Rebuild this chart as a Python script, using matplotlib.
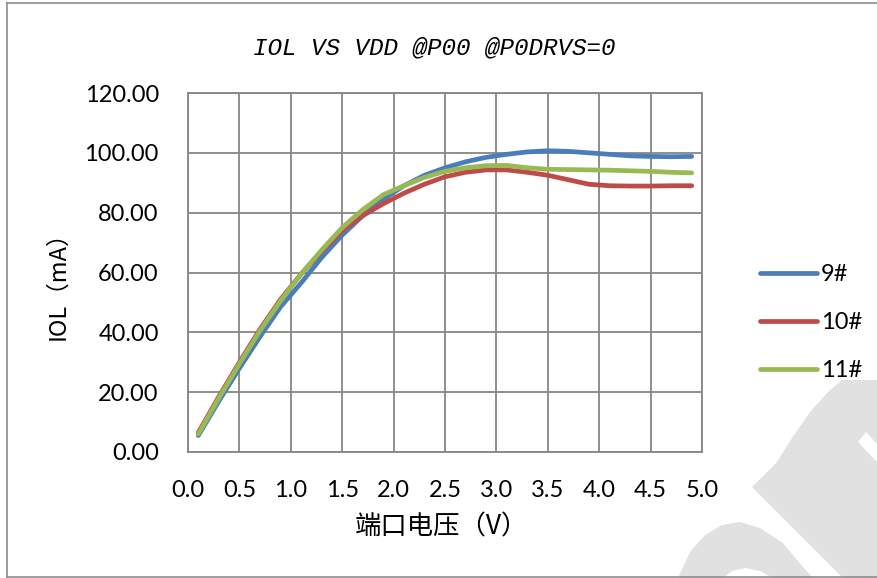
import matplotlib
matplotlib.use('Agg')
import matplotlib.pyplot as plt
from matplotlib.patches import Polygon
from matplotlib.lines import Line2D

# data
vdd = [0.1, 0.3, 0.5, 0.7, 0.9, 1.1, 1.3, 1.5, 1.7, 1.9, 2.1, 2.3, 2.5,
       2.7, 2.9, 3.1, 3.3, 3.5, 3.7, 3.9, 4.1, 4.3, 4.5, 4.7, 4.9]
iol_9 = [5.5, 17.0, 28.0, 38.5, 48.5, 56.5, 65.0, 72.5, 79.0, 84.5, 89.0, 92.5, 95.0,
         97.0, 98.5, 99.5, 100.3, 100.7, 100.5, 100.0, 99.5, 99.0, 98.8, 98.7, 98.8]
iol_10 = [6.5, 18.5, 30.0, 41.0, 51.0, 59.5, 67.0, 74.0, 79.0, 83.0, 86.5, 89.5, 92.0,
          93.5, 94.3, 94.3, 93.5, 92.5, 91.0, 89.5, 89.0, 88.9, 88.9, 89.0, 89.0]
iol_11 = [6.0, 18.0, 29.5, 40.5, 50.5, 59.5, 67.5, 75.0, 81.0, 86.0, 89.0, 91.8, 93.8,
          95.0, 95.7, 95.8, 95.0, 94.5, 94.4, 94.3, 94.2, 94.0, 93.8, 93.5, 93.3]
series = [('9#', iol_9, '#4a7ebb'), ('10#', iol_10, '#be4b48'), ('11#', iol_11, '#98b954')]
x_ticks = [0.0, 0.5, 1.0, 1.5, 2.0, 2.5, 3.0, 3.5, 4.0, 4.5, 5.0]
y_ticks = [0, 20, 40, 60, 80, 100, 120]

W, H = 877, 578
fig = plt.figure(figsize=(W / 100, H / 100), dpi=100)


def px(x, y):
    return (x / W, 1 - y / H)


# light grey watermark in the lower right corner
arch = [(678, 578), (690, 552), (705, 535), (722, 525), (740, 522), (760, 528),
        (783, 543), (803, 567), (813, 578), (773, 578), (760, 571), (745, 568),
        (732, 571), (723, 578)]
stem = [(752, 487), (777, 462), (792, 438), (810, 412), (828, 392), (842, 380),
        (877, 380), (877, 578), (843, 578)]
gap = [(858, 442), (866, 432), (877, 444), (877, 462)]
for pts, col in [(arch, '#e1e1e1'), (stem, '#e1e1e1'), (gap, 'white')]:
    fig.patches.append(Polygon([px(*p) for p in pts], closed=True, facecolor=col,
                               edgecolor='none', transform=fig.transFigure, zorder=0))

# outer chart border
for seg in [[(7, 3), (7, 577)], [(7, 3), (877, 3)], [(7, 577), (877, 577)]]:
    (x0, y0), (x1, y1) = px(*seg[0]), px(*seg[1])
    fig.add_artist(Line2D([x0, x1], [y0, y1], color='#8c8c8c', lw=1.2))

ax = fig.add_axes([188 / W, 1 - 452 / H, (702 - 188) / W, (452 - 93) / H])
ax.set_facecolor('none')

for name, vals, col in series:
    ax.plot(vdd, vals, color=col, lw=3.4, solid_capstyle='round', label=name, zorder=3)

ax.set_xlim(0, 5)
ax.set_ylim(0, 120)
ax.set_xticks(x_ticks)
ax.set_xticklabels([f'{v:.1f}' for v in x_ticks])
ax.set_yticks(y_ticks)
ax.set_yticklabels([f'{v:.2f}' for v in y_ticks])
ax.grid(True, color='#868686', lw=1.3)
ax.set_axisbelow(True)
for s in ax.spines.values():
    s.set_color('#868686')
    s.set_linewidth(1.3)
ax.tick_params(length=0, labelsize=17)
ax.tick_params(axis='y', pad=21)
ax.tick_params(axis='x', pad=20)
for lab in ax.get_xticklabels() + ax.get_yticklabels():
    lab.set_fontfamily('Lato')

fig.text(434 / W, 1 - 48 / H, 'IOL VS VDD @P00 @P0DRVS=0', ha='center', va='center',
         fontsize=17.5, style='italic', family='Liberation Mono')
fig.text(441 / W, 1 - 527 / H, '端口电压（V）', ha='center', va='center',
         fontsize=19, family=['Noto Sans CJK SC', 'DejaVu Sans'])
fig.text(58 / W, 1 - 280 / H, 'IOL（mA）', ha='center', va='center', rotation=90,
         fontsize=17, family=['Noto Sans CJK SC', 'DejaVu Sans'])

leg = fig.legend(loc='upper left', bbox_to_anchor=(760 / W, 1 - 264 / H), frameon=False,
                 prop={'family': 'Lato', 'size': 17}, handlelength=2.4,
                 handletextpad=0.17, labelspacing=1.15, borderpad=0, borderaxespad=0)

fig.savefig('out.png', dpi=100)
